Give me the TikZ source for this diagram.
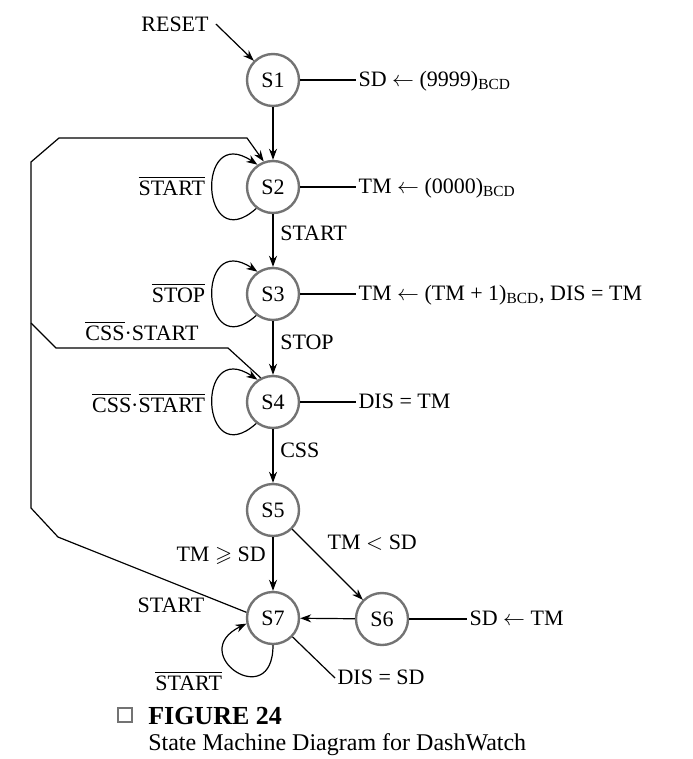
\documentclass[tikz,border=0pt]{standalone}
\usepackage{amsmath}
\usepackage{amssymb}
\usepackage{fontspec}
\setmainfont{Liberation Serif}
\usetikzlibrary{arrows.meta}

\tikzset{
  state/.style={circle,draw=black!55,line width=1.2pt,minimum size=26pt,inner sep=0pt},
  outtxt/.style={anchor=west,inner sep=1pt,text height=0.66em,text depth=0pt},
  lloop/.style={out=-138,in=146,looseness=4.4},
  bloop/.style={out=-90,in=206,looseness=5.1}
}

\begin{document}
\begin{tikzpicture}[x=0.5pt,y=0.5pt,line width=0.6pt,
  font=\fontsize{11}{13}\selectfont,
  >={Stealth[length=5.5pt,width=4pt]}]
\useasboundingbox (0,0) rectangle (692,-759);

\node[state] (s1) at (273,-80) {S1};
\node[state] (s2) at (273,-187) {S2};
\node[state] (s3) at (273,-294) {S3};
\node[state] (s4) at (273,-402) {S4};
\node[state] (s5) at (273,-510) {S5};
\node[state] (s6) at (382,-619) {S6};
\node[state] (s7) at (273,-618) {S7};

% outputs of the states
\node (reset) at (175,-24) {RESET};
\node[outtxt] (o1) at (356,-80) {SD $\leftarrow$ (9999)\textsubscript{BCD}};
\node[outtxt] (o2) at (356,-187) {TM $\leftarrow$ (0000)\textsubscript{BCD}};
\node[outtxt] (o3) at (356,-294) {TM $\leftarrow$ (TM + 1)\textsubscript{BCD}, DIS = TM};
\node[outtxt] (o4) at (356,-402) {DIS = TM};
\node[outtxt] (o6) at (467,-619) {SD $\leftarrow$ TM};
\node[outtxt] (o7) at (335,-678) {DIS = SD};

\draw[->] (reset.east) -- (s1.135);
\draw (s1) -- (o1);
\draw (s2) -- (o2);
\draw (s3) -- (o3);
\draw (s4) -- (o4);
\draw (s6) -- (o6);
\draw (s7) -- (o7.west);

\draw[->] (s1) edge (s2);
\draw[->] (s2) edge node[right,pos=0.36] {START} (s3);
\draw[->] (s3) edge node[right,pos=0.4] {STOP} (s4);
\draw[->] (s4) edge node[right,pos=0.4] {CSS} (s5);
\draw[->] (s5) edge node[left,pos=0.35] {TM $\geqslant$ SD} (s7);
\draw[->] (s5) edge node[above right,pos=0.4] {TM $<$ SD} (s6);
\draw[->] (s6) edge (s7);

% self loops
\draw[->] (s2.232) to[lloop] node[left,yshift=2pt] {$\overline{\mbox{START}}$} (s2.125);
\draw[->] (s3.232) to[lloop] node[left,yshift=2pt] {$\overline{\mbox{STOP}}$} (s3.125);
\draw[->] (s4.232) to[lloop] node[left,yshift=1pt] {$\overline{\mbox{CSS}}$·$\overline{\mbox{START}}$} (s4.125);
\draw[->] (s7.270) to[bloop] node[below left,pos=0.6] {$\overline{\mbox{START}}$} (s7.192);

% back to S2
\coordinate (join) at (31,-323);
\draw[->] (s7.168) -- node[below=4pt,pos=0.4] {START} (58,-537) -- (31,-508)
  -- (join) -- (31,-162) -- (59,-138) -- (247,-138) -- (s2.110);
\draw (s4.117) -- (228,-348) -- node[above] {$\overline{\mbox{CSS}}$·START} (56,-348) -- (join);

% caption
\node[draw=black!55,line width=1.2pt,minimum size=7pt,inner sep=0pt] (sq) at (125,-715) {};
\node[anchor=west,font=\fontsize{13}{15}\selectfont\bfseries] (fig) at (141,-716) {FIGURE 24};
\node[anchor=west,font=\fontsize{12}{14}\selectfont] (cap) at (141,-745) {State Machine Diagram for DashWatch};
\end{tikzpicture}
\end{document}
